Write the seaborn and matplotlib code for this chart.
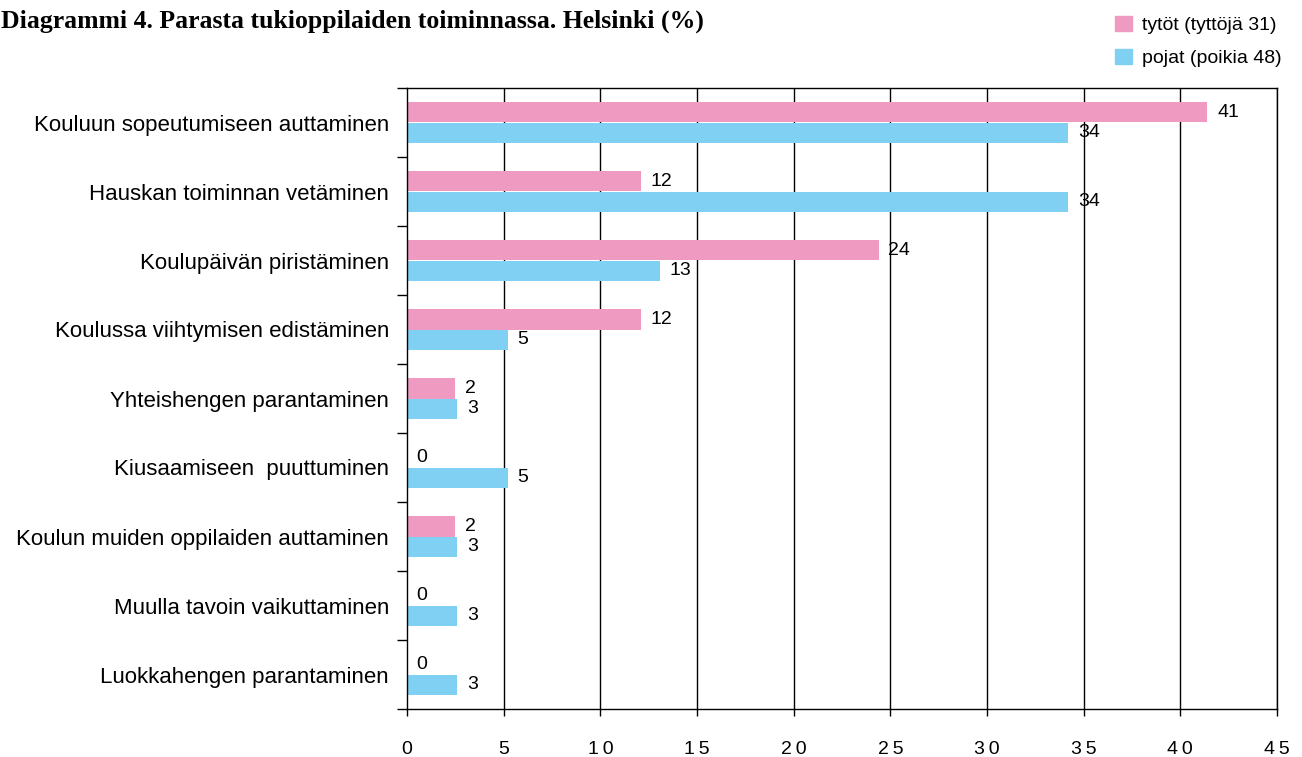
import pandas as pd
import numpy as np
import seaborn as sns
import matplotlib.pyplot as plt

# %%
categories = [
    'Kouluun sopeutumiseen auttaminen',
    'Hauskan toiminnan vetäminen',
    'Koulupäivän piristäminen',
    'Koulussa viihtymisen edistäminen',
    'Yhteishengen parantaminen',
    'Kiusaamiseen  puuttuminen',
    'Koulun muiden oppilaiden auttaminen',
    'Muulla tavoin vaikuttaminen',
    'Luokkahengen parantaminen',
]
girls = [41.4, 12.1, 24.4, 12.1, 2.5, 0, 2.5, 0, 0]
boys = [34.2, 34.2, 13.1, 5.2, 2.6, 5.2, 2.6, 2.6, 2.6]
girls_lbl = [41, 12, 24, 12, 2, 0, 2, 0, 0]
boys_lbl = [34, 34, 13, 5, 3, 5, 3, 3, 3]
series = ['tytöt (tyttöjä 31)', 'pojat (poikia 48)']
colors = ['#EE9AC1', '#80D0F4']
xticks = [0, 5, 10, 15, 20, 25, 30, 35, 40, 45]

# %%
df = pd.DataFrame({
    'kategoria': categories * 2,
    'arvo': girls + boys,
    'ryhma': [series[0]] * len(categories) + [series[1]] * len(categories),
})

sns.set_style('white')
plt.rcParams['font.family'] = ['Liberation Sans', 'DejaVu Sans']
for k in ['text.color', 'axes.labelcolor', 'xtick.color', 'ytick.color']:
    plt.rcParams[k] = 'black'
plt.rcParams['ytick.left'] = True
plt.rcParams['xtick.bottom'] = True

fig = plt.figure(figsize=(13.02, 7.57), dpi=100)
ax = fig.add_axes([407 / 1302, 1 - 709 / 757, 870 / 1302, 621 / 757])

sns.barplot(data=df, x='arvo', y='kategoria', hue='ryhma', orient='h',
            palette=colors, width=0.6, saturation=1, linewidth=0,
            ax=ax, legend=False)

ax.set_xlim(0, 45)
ax.set_ylim(len(categories) - 0.5, -0.5)
ax.set_xticks(xticks)
ax.set_xticklabels(['\u2009'.join(str(t)) for t in xticks], fontsize=14)
ax.tick_params(axis='x', direction='out', length=5, width=1, pad=18)
ax.tick_params(axis='y', which='major', length=0, pad=13, labelsize=16)
ax.set_yticks(np.arange(len(categories) + 1) - 0.5, minor=True)
ax.tick_params(axis='y', which='minor', left=True, direction='out', length=7, width=1)
ax.set_xlabel('')
ax.set_ylabel('')
for t in xticks[1:]:
    ax.axvline(t, color='black', lw=1, zorder=0)
for s in ['left', 'top', 'bottom', 'right']:
    ax.spines[s].set_visible(True)
    ax.spines[s].set_color('black')
    ax.spines[s].set_linewidth(1)

# value labels
for cont, lbls in zip(ax.containers, [girls_lbl, boys_lbl]):
    for rect, lab in zip(cont, lbls):
        ax.annotate(str(lab), (rect.get_width(), rect.get_y() + rect.get_height() / 2),
                    xytext=(7, 0), textcoords='offset points', va='center', ha='left',
                    fontsize=14)

fig.text(0.001, 0.972, 'Diagrammi 4. Parasta tukioppilaiden toiminnassa. Helsinki (%)',
         fontsize=18.5, fontweight='bold', family='Liberation Serif', va='center')

handles = [plt.Rectangle((0, 0), 1, 1, color=c) for c in colors]
fig.legend(handles, series, loc='upper right', bbox_to_anchor=(0.996, 1.0), frameon=False,
           fontsize=14, handlelength=0.85, handleheight=0.85, handletextpad=0.5,
           labelspacing=0.75, borderaxespad=0.4)

fig.savefig('out.png', dpi=100)
